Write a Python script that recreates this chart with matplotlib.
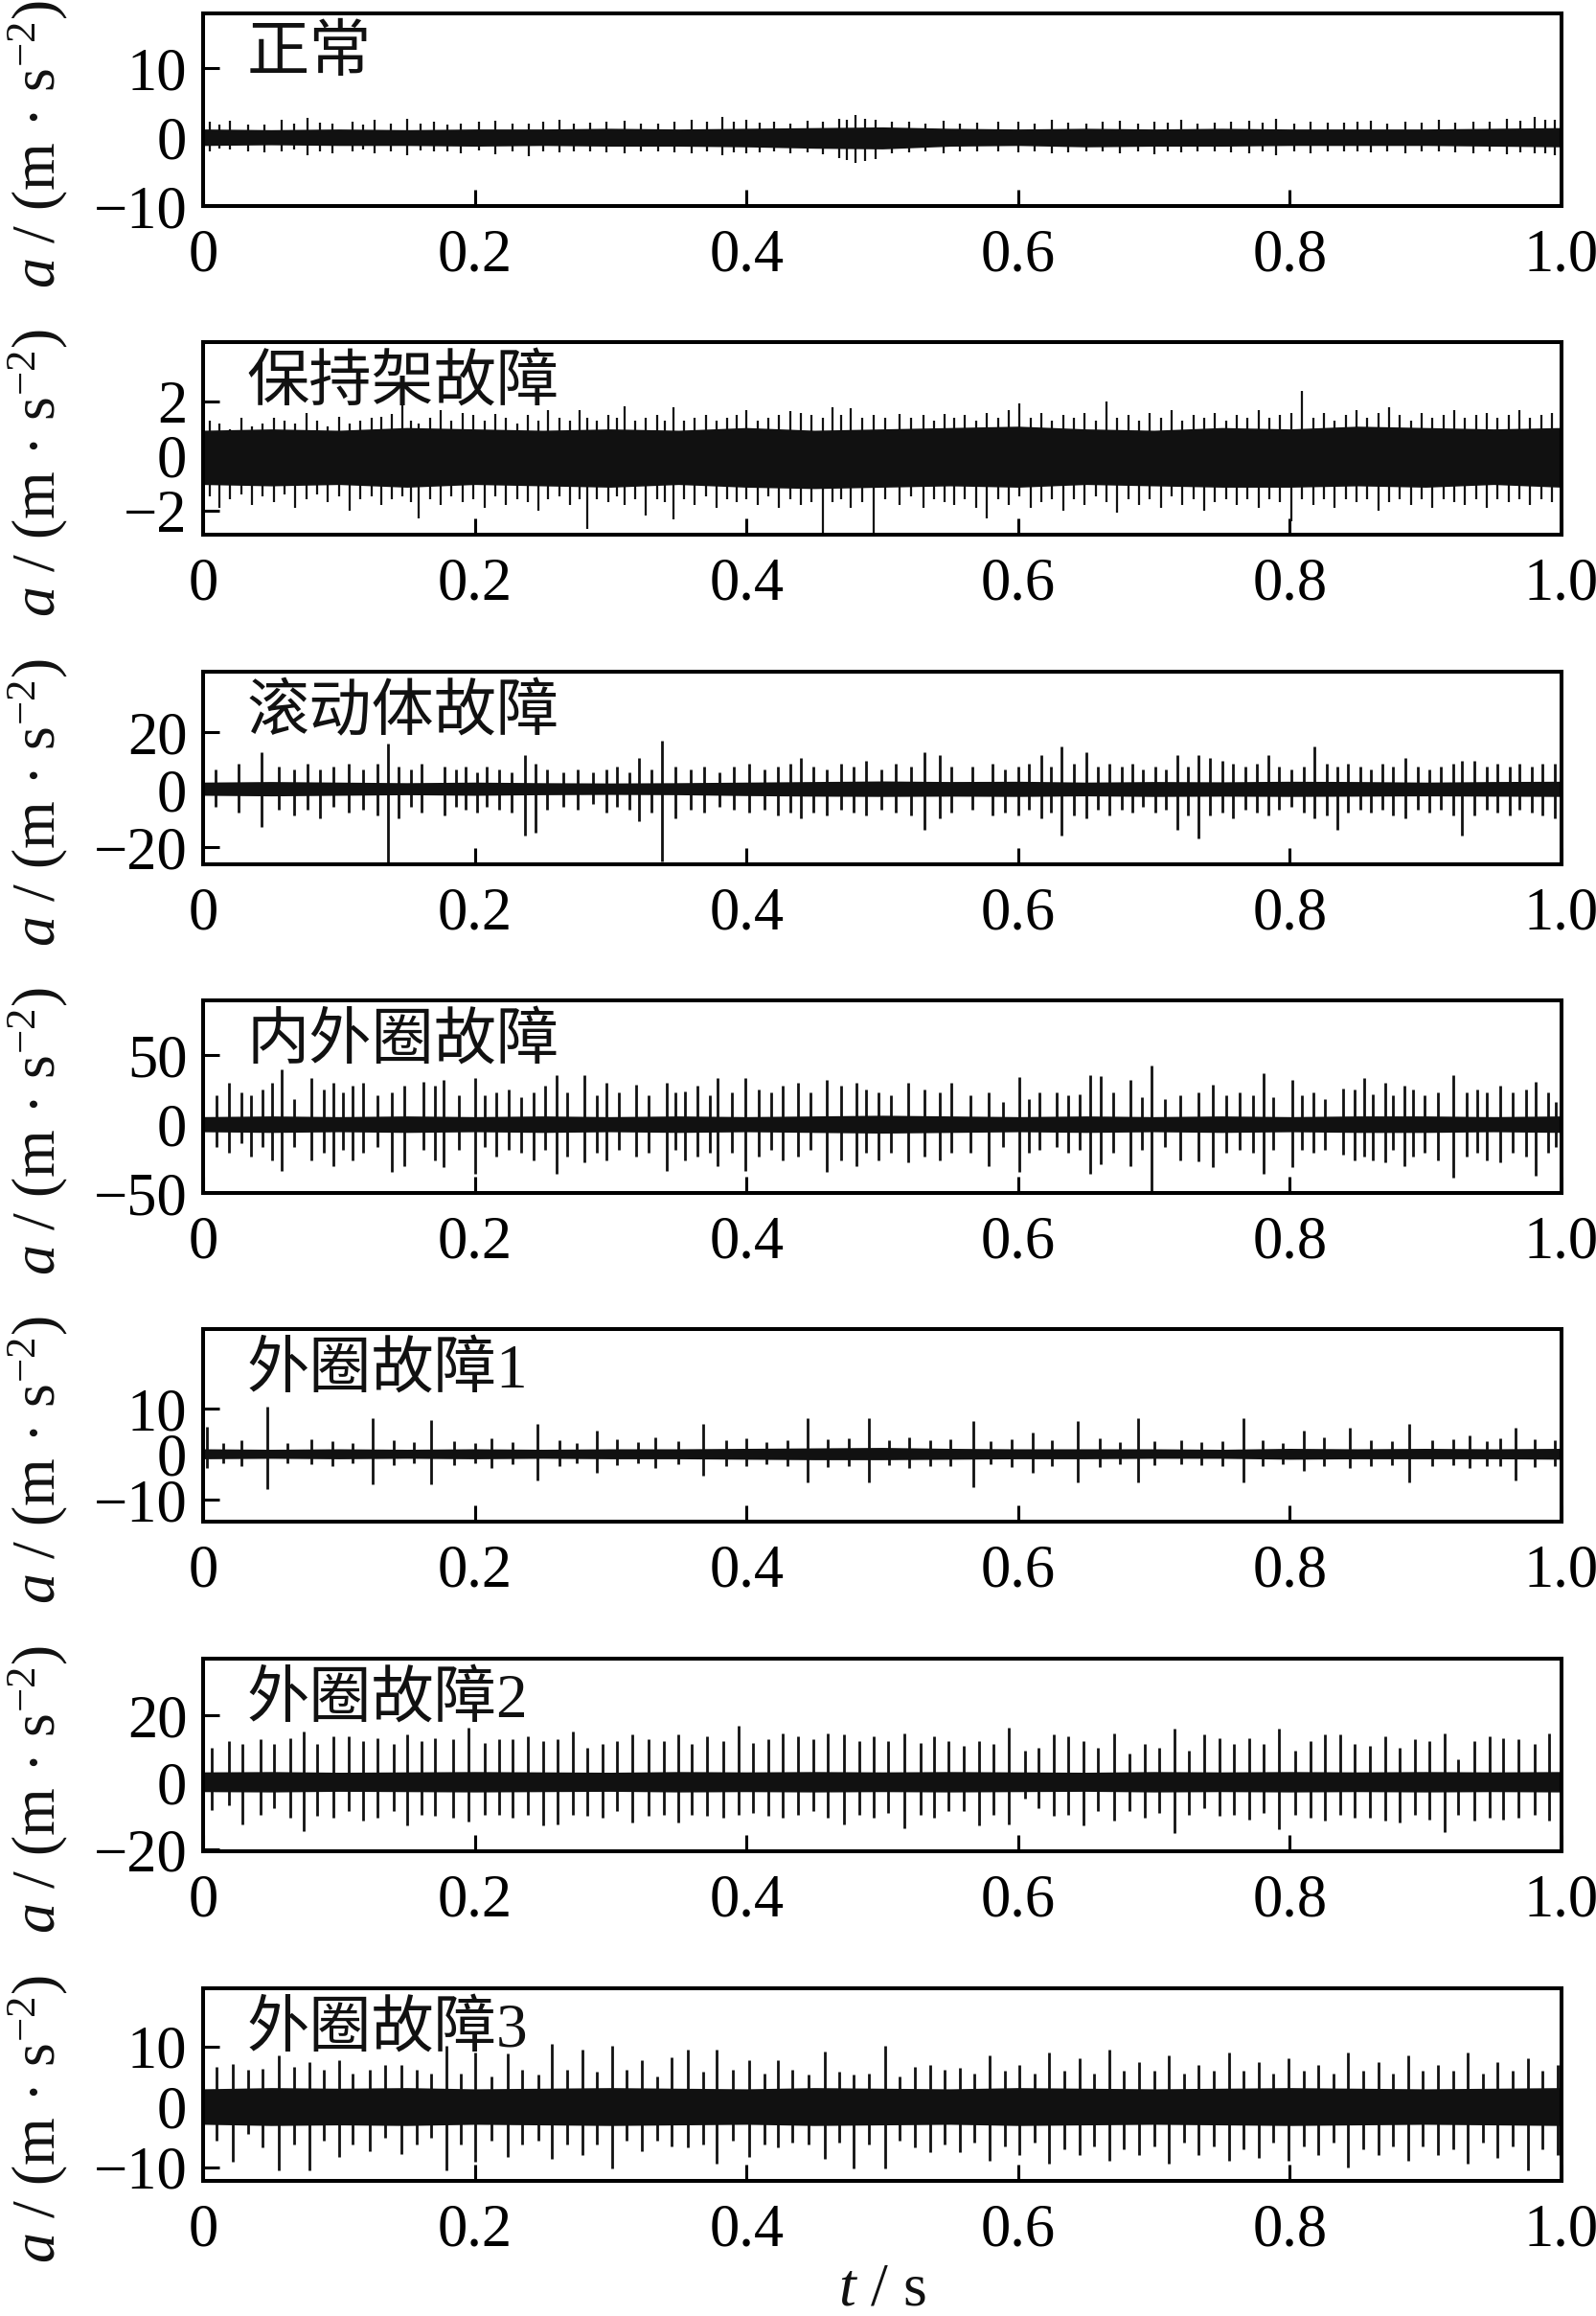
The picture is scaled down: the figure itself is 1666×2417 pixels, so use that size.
import numpy as np
import matplotlib
matplotlib.use('Agg')
import matplotlib.pyplot as plt

plt.rcParams['font.family'] = ['Liberation Serif', 'Noto Sans CJK SC']
plt.rcParams['mathtext.fontset'] = 'custom'
plt.rcParams['mathtext.rm'] = 'Liberation Serif'
plt.rcParams['mathtext.it'] = 'Liberation Serif:italic'
plt.rcParams['axes.unicode_minus'] = True

# ---------------- data ----------------
names = ['正常', '保持架故障', '滚动体故障', '内外圈故障', '外圈故障1', '外圈故障2', '外圈故障3']
ylims = [(-10, 18), (-2.9, 4.2), (-26, 41), (-50, 90), (-14.8, 27.5), (-20.5, 37), (-12.3, 19.7)]
yticks = [[-10, 0, 10], [-2, 0, 2], [-20, 0, 20], [-50, 0, 50], [-10, 0, 10], [-20, 0, 20], [-10, 0, 10]]
xticks = [0, 0.2, 0.4, 0.6, 0.8, 1.0]
xticklabels = ['0', '0.2', '0.4', '0.6', '0.8', '1.0']

# dense noise band (core envelope) sampled every 0.05 s
band_t = np.linspace(0, 1, 21)
band_hi = [
    [1.2, 1.1, 1.2, 1.1, 1.2, 1.2, 1.3, 1.2, 1.3, 1.4, 1.5, 1.3, 1.2, 1.3, 1.2, 1.3, 1.2, 1.2, 1.2, 1.3, 1.4],
    [0.95, 1.0, 0.95, 1.05, 1.0, 0.95, 1.0, 0.95, 1.05, 0.95, 1.0, 1.05, 1.1, 1.0, 0.95, 1.05, 1.0, 1.1, 1.05, 1.0, 1.05],
    [2.6, 2.8, 2.6, 2.4, 2.6, 2.4, 2.3, 2.4, 2.6, 2.8, 3.0, 2.8, 2.9, 2.6, 2.8, 2.7, 2.9, 2.8, 2.6, 2.8, 2.9],
    [5.5, 6.0, 5.5, 6.0, 5.5, 6.0, 5.5, 6.0, 5.5, 6.0, 6.5, 6.0, 5.5, 6.0, 5.5, 6.0, 5.5, 6.0, 6.0, 5.5, 6.0],
    [1.2, 1.1, 1.2, 1.1, 1.2, 1.1, 1.2, 1.2, 1.3, 1.4, 1.5, 1.3, 1.2, 1.2, 1.2, 1.1, 1.3, 1.2, 1.3, 1.2, 1.3],
    [3.2, 3.3, 3.1, 3.2, 3.3, 3.2, 3.1, 3.3, 3.2, 3.3, 3.2, 3.3, 3.2, 3.1, 3.3, 3.2, 3.3, 3.2, 3.3, 3.2, 3.3],
    [3.0, 3.2, 3.1, 3.2, 3.0, 3.1, 3.2, 3.1, 3.0, 3.2, 3.1, 3.0, 3.2, 3.1, 3.0, 3.1, 3.2, 3.1, 3.0, 3.1, 3.2],
]
band_lo = [
    [-1.2, -1.1, -1.2, -1.2, -1.3, -1.2, -1.3, -1.3, -1.4, -1.6, -1.7, -1.3, -1.2, -1.4, -1.3, -1.3, -1.2, -1.2, -1.2, -1.3, -1.4],
    [-1.05, -1.1, -1.05, -1.15, -1.05, -1.1, -1.15, -1.05, -1.15, -1.2, -1.15, -1.1, -1.15, -1.05, -1.1, -1.15, -1.15, -1.1, -1.15, -1.05, -1.15],
    [-2.0, -2.2, -2.0, -1.8, -2.0, -1.8, -1.7, -1.8, -2.1, -2.3, -2.4, -2.3, -2.4, -2.2, -2.4, -2.3, -2.4, -2.3, -2.2, -2.3, -2.4],
    [-5.5, -6.0, -5.5, -6.0, -5.5, -6.0, -5.5, -6.0, -5.5, -6.0, -6.5, -6.0, -5.5, -6.0, -5.5, -6.0, -5.5, -6.0, -6.0, -5.5, -6.0],
    [-1.0, -0.9, -1.0, -0.9, -1.0, -0.9, -1.0, -1.0, -1.1, -1.2, -1.2, -1.1, -1.0, -1.0, -0.9, -0.9, -1.1, -1.0, -1.0, -1.0, -1.1],
    [-2.7, -2.8, -2.6, -2.7, -2.8, -2.7, -2.6, -2.8, -2.7, -2.8, -2.7, -2.8, -2.7, -2.6, -2.8, -2.7, -2.8, -2.7, -2.8, -2.7, -2.8],
    [-2.9, -3.1, -3.0, -3.1, -2.9, -3.0, -3.1, -3.0, -2.9, -3.1, -3.0, -2.9, -3.1, -3.0, -2.9, -3.0, -3.1, -3.0, -2.9, -3.0, -3.1],
]

# impulses / peaks: (time s, max, min)
normal_peaks = [
    (0.005, 2.2, -2.0), (0.012, 1.8, -1.7), (0.020, 2.4, -1.8), (0.033, 1.9, -2.0), (0.045, 1.9, -2.2),
    (0.058, 2.5, -2.0), (0.067, 2.0, -1.8), (0.077, 2.8, -2.6), (0.086, 2.1, -2.0), (0.095, 2.0, -2.3),
    (0.110, 2.3, -2.0), (0.118, 1.9, -1.8), (0.126, 2.6, -2.4), (0.138, 2.0, -2.0), (0.150, 2.7, -2.6),
    (0.160, 2.0, -1.9), (0.170, 2.2, -2.0), (0.180, 1.9, -2.1), (0.190, 2.0, -2.3), (0.203, 2.2, -1.9),
    (0.215, 2.4, -2.5), (0.228, 2.0, -2.0), (0.240, 2.0, -2.8), (0.250, 2.2, -2.0), (0.262, 2.6, -2.2),
    (0.273, 2.0, -2.1), (0.285, 2.1, -2.0), (0.297, 2.2, -2.2), (0.310, 2.4, -2.3), (0.322, 2.0, -2.0),
    (0.335, 2.0, -2.1), (0.347, 2.3, -2.2), (0.360, 2.5, -2.4), (0.371, 2.2, -2.1), (0.382, 2.9, -2.6),
    (0.391, 2.3, -2.2), (0.400, 2.6, -2.4), (0.410, 2.1, -2.2), (0.420, 2.2, -2.1), (0.432, 2.0, -2.3),
    (0.445, 2.4, -2.2), (0.456, 2.2, -2.5), (0.468, 2.7, -3.0), (0.474, 2.6, -3.3), (0.480, 3.2, -3.8),
    (0.487, 2.7, -3.5), (0.495, 2.5, -3.2), (0.507, 2.2, -2.4), (0.520, 2.2, -2.2), (0.532, 2.0, -2.0),
    (0.545, 2.4, -2.3), (0.557, 2.0, -2.1), (0.570, 2.1, -2.0), (0.585, 2.2, -2.1), (0.600, 2.3, -2.2),
    (0.612, 2.0, -2.0), (0.625, 2.6, -2.4), (0.637, 2.1, -2.2), (0.650, 2.0, -2.1), (0.662, 2.2, -2.0),
    (0.675, 2.4, -2.3), (0.688, 2.0, -2.1), (0.700, 2.2, -2.5), (0.710, 2.1, -2.0), (0.720, 2.6, -2.2),
    (0.732, 2.0, -2.1), (0.745, 2.1, -2.0), (0.757, 2.2, -2.2), (0.770, 2.4, -2.3), (0.780, 2.1, -2.0),
    (0.790, 2.7, -2.6), (0.803, 2.0, -2.1), (0.815, 2.3, -2.4), (0.828, 2.1, -2.0), (0.840, 2.1, -2.0),
    (0.850, 2.2, -2.1), (0.860, 2.4, -2.2), (0.872, 2.0, -2.0), (0.885, 2.2, -2.3), (0.897, 2.1, -2.0),
    (0.910, 2.5, -2.1), (0.922, 2.1, -2.2), (0.935, 2.3, -2.4), (0.947, 2.2, -2.0), (0.960, 2.7, -2.5),
    (0.970, 2.4, -2.2), (0.980, 3.0, -2.4), (0.988, 2.5, -2.3), (0.995, 2.6, -2.6),
]
cage_peaks = [
    (0.005, 1.3, -1.5), (0.012, 1.2, -1.9), (0.020, 1.0, -1.6), (0.028, 1.4, -1.4), (0.036, 1.1, -1.8),
    (0.044, 1.2, -1.5), (0.052, 1.4, -1.7), (0.060, 1.3, -1.4), (0.068, 1.2, -1.9), (0.076, 1.6, -1.6),
    (0.084, 1.3, -1.4), (0.092, 1.1, -1.7), (0.100, 1.45, -1.5), (0.108, 1.2, -2.0), (0.116, 1.3, -1.6),
    (0.124, 1.4, -1.5), (0.131, 1.45, -1.8), (0.139, 1.55, -1.6), (0.147, 2.1, -1.5), (0.153, 1.3, -1.7),
    (0.159, 1.2, -2.3), (0.167, 1.4, -1.6), (0.175, 1.7, -1.8), (0.183, 1.3, -1.5), (0.191, 1.6, -1.7),
    (0.199, 1.5, -1.6), (0.207, 1.3, -1.9), (0.215, 1.55, -1.5), (0.223, 1.4, -1.8), (0.231, 1.2, -1.6),
    (0.239, 1.5, -1.7), (0.247, 1.3, -2.0), (0.254, 1.7, -1.6), (0.262, 1.4, -1.5), (0.270, 1.3, -1.8),
    (0.277, 1.7, -1.6), (0.283, 1.4, -2.7), (0.290, 1.3, -1.6), (0.298, 1.5, -1.7), (0.305, 1.4, -1.5),
    (0.310, 1.85, -1.8), (0.318, 1.3, -1.6), (0.326, 1.4, -2.2), (0.334, 1.5, -1.6), (0.340, 1.3, -1.7),
    (0.346, 1.8, -2.35), (0.354, 1.3, -1.6), (0.362, 1.4, -1.8), (0.370, 1.5, -1.5), (0.378, 1.3, -1.9),
    (0.386, 1.4, -1.6), (0.393, 1.5, -1.7), (0.400, 1.7, -1.6), (0.408, 1.3, -1.8), (0.416, 1.4, -1.5),
    (0.424, 1.5, -1.9), (0.432, 1.65, -1.6), (0.440, 1.6, -1.8), (0.448, 1.5, -1.7), (0.456, 1.4, -2.85),
    (0.463, 1.8, -1.7), (0.470, 1.5, -1.6), (0.477, 1.75, -1.9), (0.485, 1.4, -1.7), (0.494, 1.5, -2.85),
    (0.502, 1.4, -1.6), (0.513, 1.55, -1.8), (0.521, 1.4, -1.5), (0.530, 1.5, -1.9), (0.538, 1.3, -1.6),
    (0.546, 1.55, -1.7), (0.553, 1.4, -1.8), (0.561, 1.5, -1.6), (0.569, 1.3, -1.9), (0.577, 1.6, -2.3),
    (0.585, 1.4, -1.6), (0.593, 1.7, -1.8), (0.601, 1.95, -1.5), (0.609, 1.4, -1.9), (0.617, 1.6, -1.7),
    (0.625, 1.3, -1.6), (0.633, 1.5, -2.0), (0.641, 1.4, -1.6), (0.649, 1.6, -1.8), (0.657, 1.3, -1.5),
    (0.665, 2.0, -1.7), (0.673, 1.4, -2.1), (0.681, 1.5, -1.6), (0.689, 1.3, -1.8), (0.697, 1.6, -1.6),
    (0.705, 1.4, -1.9), (0.713, 1.7, -1.5), (0.721, 1.3, -1.8), (0.729, 1.5, -1.6), (0.737, 1.4, -2.0),
    (0.745, 1.6, -1.7), (0.753, 1.3, -1.6), (0.761, 1.5, -1.8), (0.769, 1.4, -1.6), (0.777, 1.7, -1.9),
    (0.785, 1.4, -1.6), (0.793, 1.5, -1.7), (0.801, 1.6, -2.4), (0.809, 2.4, -1.6), (0.817, 1.4, -1.8),
    (0.825, 1.6, -1.6), (0.833, 1.3, -1.9), (0.841, 1.5, -1.6), (0.849, 1.7, -1.7), (0.857, 1.4, -1.6),
    (0.865, 1.6, -2.0), (0.873, 1.8, -1.7), (0.881, 1.5, -1.6), (0.889, 1.3, -1.8), (0.897, 1.6, -1.6),
    (0.905, 1.4, -1.9), (0.913, 1.5, -1.6), (0.921, 1.7, -1.7), (0.929, 1.4, -1.8), (0.937, 1.5, -1.6),
    (0.945, 1.6, -1.9), (0.953, 1.4, -1.6), (0.961, 1.5, -1.7), (0.969, 1.7, -1.6), (0.977, 1.4, -1.8),
    (0.985, 1.5, -1.6), (0.993, 1.6, -1.7),
]
ball_peaks = [
    (0.009, 7, -6), (0.026, 9, -8), (0.043, 13, -13), (0.056, 8, -7), (0.067, 7, -9), (0.077, 9, -7),
    (0.086, 7, -10), (0.096, 8, -6), (0.107, 9, -8), (0.118, 7, -7), (0.128, 9, -9), (0.136, 16, -26),
    (0.144, 8, -10), (0.153, 7, -6), (0.161, 9, -8), (0.178, 8, -9), (0.186, 7, -6), (0.193, 8, -7),
    (0.202, 6, -8), (0.209, 8, -6), (0.218, 7, -7), (0.227, 6, -8), (0.237, 12, -16), (0.245, 9, -15),
    (0.253, 7, -7), (0.265, 6, -6), (0.276, 7, -7), (0.287, 6, -5), (0.297, 7, -8), (0.305, 8, -6),
    (0.314, 6, -7), (0.321, 11, -11), (0.330, 7, -8), (0.338, 17, -25), (0.348, 8, -10), (0.359, 7, -7),
    (0.369, 8, -8), (0.380, 6, -6), (0.391, 8, -7), (0.402, 9, -8), (0.413, 7, -7), (0.423, 8, -9),
    (0.432, 9, -8), (0.440, 11, -10), (0.449, 8, -8), (0.459, 7, -9), (0.470, 9, -7), (0.479, 8, -8),
    (0.488, 10, -9), (0.499, 7, -7), (0.510, 9, -8), (0.521, 8, -9), (0.531, 13, -14), (0.542, 12, -10),
    (0.551, 8, -8), (0.566, 8, -7), (0.581, 9, -9), (0.590, 7, -8), (0.600, 8, -9), (0.608, 9, -7),
    (0.617, 12, -10), (0.624, 8, -8), (0.632, 15, -16), (0.641, 9, -9), (0.650, 13, -10), (0.659, 8, -7),
    (0.667, 9, -9), (0.676, 8, -7), (0.684, 9, -8), (0.692, 7, -6), (0.701, 8, -8), (0.709, 7, -7),
    (0.717, 12, -14), (0.725, 8, -9), (0.733, 12, -17), (0.741, 11, -9), (0.750, 10, -8), (0.758, 9, -10),
    (0.767, 8, -7), (0.776, 9, -8), (0.784, 12, -9), (0.792, 8, -7), (0.801, 7, -6), (0.810, 8, -8),
    (0.818, 15, -10), (0.827, 9, -9), (0.835, 8, -14), (0.843, 9, -8), (0.852, 8, -7), (0.860, 7, -8),
    (0.868, 9, -7), (0.876, 8, -9), (0.885, 11, -10), (0.894, 8, -7), (0.903, 7, -8), (0.911, 8, -7),
    (0.920, 9, -9), (0.927, 10, -16), (0.936, 10, -9), (0.945, 8, -7), (0.953, 9, -8), (0.962, 8, -9),
    (0.969, 9, -7), (0.978, 8, -8), (0.986, 9, -9), (0.995, 9, -10),
]
inout_peaks = [
    (0.010, 21, -16.5), (0.019, 30, -21), (0.028, 23, -14), (0.035, 21, -23.5), (0.044, 25, -16.5),
    (0.051, 30, -26), (0.058, 40, -34), (0.067, 18.5, -16.5), (0.080, 33.5, -26), (0.089, 25, -21),
    (0.096, 30, -30.5), (0.103, 23, -19), (0.110, 28, -26), (0.118, 30, -21), (0.128, 21, -16.5),
    (0.139, 23, -35), (0.148, 28, -30.5), (0.162, 31, -19), (0.171, 28, -26), (0.177, 32.5, -31.5),
    (0.188, 21, -19), (0.200, 33.5, -36), (0.207, 21, -16.5), (0.216, 23, -23.5), (0.225, 25, -19),
    (0.234, 19.5, -21), (0.243, 23, -26), (0.252, 28, -19), (0.260, 35.5, -36), (0.268, 23, -23.5),
    (0.281, 36, -28), (0.290, 21, -21), (0.297, 30, -26), (0.306, 23, -19), (0.319, 29, -23.5),
    (0.328, 21, -21), (0.341, 30, -34), (0.348, 23, -19), (0.355, 24, -26), (0.364, 28, -23.5),
    (0.373, 21, -21), (0.379, 33.5, -30.5), (0.389, 23, -21), (0.399, 33.5, -34), (0.409, 25, -23.5),
    (0.418, 23, -19), (0.427, 28, -26), (0.438, 30, -23.5), (0.447, 23, -19), (0.459, 32.5, -35),
    (0.470, 28, -26), (0.481, 30, -30.5), (0.488, 25, -21), (0.497, 23, -26), (0.506, 21, -21),
    (0.519, 30, -28), (0.531, 25, -23.5), (0.542, 23, -26), (0.551, 30, -21),
    (0.565, 21, -21), (0.578, 23, -30.5), (0.589, 16, -16.5), (0.601, 34, -35), (0.608, 18.5, -21),
    (0.616, 23, -19), (0.628, 23, -16.5), (0.637, 21, -21), (0.645, 22, -19), (0.653, 35.5, -36),
    (0.661, 35, -29), (0.670, 23, -21), (0.683, 32.5, -30.5), (0.691, 19.5, -19), (0.698, 42.5, -49),
    (0.708, 18.5, -16.5), (0.719, 21, -26), (0.733, 23, -27), (0.743, 29, -31.5), (0.753, 21, -21),
    (0.763, 23, -19), (0.773, 21, -21), (0.781, 37, -36), (0.788, 19.5, -19), (0.802, 32, -31.5),
    (0.809, 21, -19), (0.817, 23, -21), (0.826, 18.5, -19), (0.839, 26, -22), (0.848, 25, -26),
    (0.855, 33.5, -23.5), (0.861, 22, -26), (0.870, 30, -28), (0.876, 21, -19), (0.884, 28, -30.5),
    (0.891, 25, -23.5), (0.899, 21, -21), (0.909, 23, -26), (0.920, 36, -39), (0.930, 23, -23.5),
    (0.938, 25, -21), (0.945, 23, -26), (0.955, 28, -28), (0.964, 23, -21), (0.974, 25, -23.5),
    (0.981, 31, -37.5), (0.990, 23, -21), (0.996, 16, -16.5),
]
outer1_peaks = [
    (0.003, 6.0, -3.0), (0.015, 2.5, -2.0), (0.028, 3.0, -2.5), (0.047, 10.4, -7.7), (0.062, 2.5, -2.0),
    (0.080, 3.3, -2.2), (0.095, 2.8, -2.5), (0.110, 2.5, -2.0), (0.125, 7.9, -6.5), (0.140, 3.0, -2.3),
    (0.155, 2.6, -2.0), (0.168, 7.6, -6.5), (0.185, 2.8, -2.4), (0.200, 2.5, -2.0), (0.212, 3.5, -3.0),
    (0.228, 2.7, -2.2), (0.246, 6.6, -5.8), (0.262, 3.0, -2.5), (0.275, 2.5, -2.0), (0.290, 5.2, -4.0),
    (0.305, 3.2, -2.4), (0.320, 2.6, -2.0), (0.333, 3.8, -3.0), (0.350, 2.8, -2.2), (0.368, 6.6, -4.6),
    (0.385, 3.0, -2.5), (0.400, 3.5, -2.5), (0.415, 2.7, -2.2), (0.430, 3.0, -2.6), (0.445, 7.9, -6.1),
    (0.460, 3.2, -2.8), (0.475, 3.5, -2.5), (0.490, 7.9, -6.2), (0.505, 3.0, -2.4), (0.520, 3.8, -3.0),
    (0.535, 3.0, -2.6), (0.550, 3.2, -2.5), (0.567, 7.2, -7.2), (0.580, 2.8, -2.2), (0.595, 3.2, -2.8),
    (0.611, 4.7, -4.0), (0.625, 3.0, -2.5), (0.644, 7.4, -6.1), (0.660, 3.5, -2.8), (0.675, 2.6, -2.2),
    (0.688, 7.9, -6.1), (0.700, 2.8, -2.4), (0.720, 3.0, -2.2), (0.735, 2.7, -2.4), (0.750, 2.8, -2.6),
    (0.766, 7.9, -6.1), (0.780, 3.0, -2.5), (0.795, 2.5, -2.2), (0.810, 5.2, -3.7), (0.825, 3.8, -2.5),
    (0.844, 5.8, -3.0), (0.860, 3.0, -2.6), (0.875, 2.8, -2.4), (0.888, 6.6, -6.2), (0.905, 3.0, -2.6),
    (0.920, 3.2, -2.4), (0.932, 4.2, -3.0), (0.945, 2.8, -2.6), (0.955, 3.5, -2.5), (0.966, 5.8, -5.8),
    (0.980, 3.2, -2.8), (0.995, 3.0, -2.5),
]
outer2_peaks = [
    (0.006, 10.5, -8.1), (0.019, 12.4, -6.7), (0.029, 11.4, -12.4), (0.042, 12.9, -9.5), (0.052, 11.4, -7.6),
    (0.064, 13.3, -10.5), (0.074, 15.4, -14.5), (0.084, 11.4, -10.0), (0.096, 13.8, -10.5), (0.107, 13.8, -8.6),
    (0.118, 12.4, -11.4), (0.128, 13.3, -10.5), (0.140, 11.4, -8.6), (0.150, 14.3, -12.9), (0.161, 12.4, -9.5),
    (0.171, 13.3, -10.0), (0.184, 12.9, -10.5), (0.195, 16.4, -11.7), (0.207, 11.9, -9.5), (0.218, 12.9, -9.5),
    (0.228, 12.9, -10.5), (0.239, 13.8, -9.5), (0.250, 12.4, -12.9), (0.261, 12.9, -12.4), (0.272, 15.2, -9.5),
    (0.283, 10.5, -10.0), (0.294, 11.4, -10.5), (0.305, 12.4, -8.6), (0.316, 14.3, -11.9), (0.328, 12.9, -10.0),
    (0.339, 12.4, -9.5), (0.350, 14.3, -11.9), (0.360, 11.4, -9.5), (0.371, 13.8, -10.0), (0.383, 12.4, -10.5),
    (0.394, 17.1, -9.5), (0.405, 11.9, -9.0), (0.416, 12.9, -10.0), (0.427, 14.8, -10.5), (0.438, 13.8, -9.5),
    (0.449, 12.9, -8.6), (0.460, 14.8, -10.5), (0.472, 14.3, -12.4), (0.483, 12.4, -9.5), (0.494, 13.8, -10.5),
    (0.504, 12.4, -9.0), (0.516, 14.8, -13.5), (0.528, 11.9, -9.5), (0.538, 13.8, -10.5), (0.549, 12.4, -8.6),
    (0.560, 11.0, -8.6), (0.571, 12.4, -12.9), (0.582, 11.4, -9.5), (0.593, 16.4, -12.4), (0.605, 9.5, -4.8),
    (0.615, 10.5, -7.6), (0.626, 14.3, -10.0), (0.637, 13.8, -9.5), (0.648, 12.4, -12.9), (0.659, 10.5, -8.6),
    (0.671, 14.8, -11.4), (0.682, 8.6, -8.6), (0.693, 11.4, -10.5), (0.704, 10.5, -9.0), (0.715, 16.2, -15.2),
    (0.726, 9.5, -9.5), (0.737, 14.3, -7.6), (0.748, 13.3, -10.0), (0.759, 11.4, -9.5), (0.770, 13.3, -11.0),
    (0.781, 11.4, -9.0), (0.792, 16.2, -13.8), (0.804, 9.5, -9.5), (0.815, 12.4, -10.5), (0.826, 14.3, -11.4),
    (0.837, 14.3, -9.5), (0.848, 11.4, -10.5), (0.859, 11.0, -10.5), (0.870, 13.8, -11.4), (0.881, 10.5, -11.9),
    (0.892, 12.9, -9.5), (0.903, 12.4, -11.0), (0.914, 14.8, -14.8), (0.924, 7.1, -9.5), (0.936, 12.4, -11.4),
    (0.947, 13.8, -10.5), (0.957, 13.3, -11.0), (0.968, 12.9, -10.5), (0.980, 11.4, -9.5), (0.991, 14.8, -11.4),
    (0.999, 12.0, -9.0),
]
outer3_peaks = [
    (0.010, 6.6, -5.6), (0.022, 7.1, -9.1), (0.033, 6.1, -4.5), (0.044, 6.3, -6.7), (0.056, 8.5, -10.5),
    (0.067, 6.6, -6.2), (0.078, 7.4, -10.5), (0.089, 6.1, -5.6), (0.100, 7.7, -8.3), (0.110, 5.6, -6.2),
    (0.123, 6.1, -7.3), (0.134, 6.9, -5.1), (0.146, 6.9, -7.8), (0.157, 6.1, -6.2), (0.168, 5.6, -5.1),
    (0.179, 10.1, -10.6), (0.190, 5.6, -6.2), (0.200, 9.0, -9.1), (0.212, 5.0, -5.6), (0.224, 8.8, -8.3),
    (0.235, 6.1, -6.2), (0.247, 5.3, -5.6), (0.257, 10.4, -8.7), (0.268, 6.1, -6.2), (0.279, 9.5, -8.0),
    (0.290, 5.8, -6.2), (0.301, 10.2, -10.2), (0.312, 6.1, -5.6), (0.323, 7.7, -7.3), (0.334, 5.0, -5.6),
    (0.345, 8.2, -6.5), (0.357, 9.5, -6.7), (0.368, 5.8, -6.2), (0.378, 9.5, -9.4), (0.390, 6.1, -5.6),
    (0.402, 7.7, -8.3), (0.413, 5.6, -6.2), (0.423, 7.7, -6.7), (0.434, 6.1, -5.9), (0.446, 5.3, -6.2),
    (0.458, 9.2, -8.6), (0.468, 5.8, -5.9), (0.479, 5.3, -10.2), (0.490, 5.6, -6.2), (0.502, 10.2, -10.2),
    (0.513, 5.0, -5.6), (0.524, 6.6, -6.7), (0.535, 6.9, -7.6), (0.546, 6.1, -6.2),
    (0.557, 6.5, -7.5), (0.568, 5.5, -6.0), (0.579, 8.5, -9.0), (0.590, 6.0, -6.5), (0.601, 7.0, -8.0),
    (0.612, 5.5, -6.0), (0.623, 9.0, -9.5), (0.634, 6.0, -7.0), (0.645, 8.0, -8.0), (0.656, 5.5, -6.5),
    (0.667, 9.5, -9.0), (0.678, 6.0, -7.0), (0.689, 7.5, -8.0), (0.700, 6.0, -6.5), (0.711, 8.5, -9.5),
    (0.722, 5.5, -6.0), (0.733, 7.0, -8.0), (0.744, 6.0, -6.5), (0.755, 9.0, -9.0), (0.766, 6.0, -7.0),
    (0.777, 7.5, -8.5), (0.788, 5.5, -6.0), (0.799, 8.0, -9.0), (0.810, 6.0, -6.5), (0.821, 7.0, -8.0),
    (0.832, 5.5, -6.0), (0.843, 9.0, -10.0), (0.854, 6.0, -7.0), (0.865, 7.5, -8.0), (0.876, 5.5, -6.5),
    (0.887, 8.5, -9.0), (0.898, 6.0, -6.5), (0.909, 7.0, -8.0), (0.920, 6.0, -7.0), (0.931, 9.0, -9.5),
    (0.942, 5.5, -6.0), (0.953, 7.5, -8.5), (0.964, 6.0, -6.5), (0.975, 8.0, -10.5), (0.986, 6.0, -7.0),
    (0.997, 7.0, -8.0),
]
peaks = [normal_peaks, cage_peaks, ball_peaks, inout_peaks, outer1_peaks, outer2_peaks, outer3_peaks]

# ---------------- layout ----------------
W, H = 1666, 2417
fig = plt.figure(figsize=(W / 100, H / 100), dpi=100)
ax_left, ax_right = 212, 1630
ax_tops = [14, 357, 701, 1044, 1387, 1731, 2075]
ax_h = 201
ink = '#111111'
spike_lw = [1.6, 1.6, 2.0, 2.0, 2.0, 2.0, 2.0]

for i in range(7):
    top = ax_tops[i]
    ax = fig.add_axes([ax_left / W, 1 - (top + ax_h) / H, (ax_right - ax_left) / W, ax_h / H])
    ax.fill_between(band_t, band_lo[i], band_hi[i], color=ink, lw=0, zorder=2)
    pk = peaks[i]
    pt = [p[0] for p in pk]
    ph = [p[1] for p in pk]
    pl = [p[2] for p in pk]
    ax.vlines(pt, pl, ph, color=ink, lw=spike_lw[i], zorder=2)
    ax.set_xlim(0, 1)
    ax.set_ylim(*ylims[i])
    ax.set_xticks(xticks)
    ax.set_xticklabels(xticklabels)
    ax.set_yticks(yticks[i])
    ax.tick_params(direction='in', length=12, width=2.2, labelsize=45,
                   top=False, right=False)
    ax.tick_params(axis='x', pad=17)
    ax.tick_params(axis='y', pad=12)
    for s in ax.spines.values():
        s.set_linewidth(2.9)
        s.set_zorder(5)
    ax.text(0.032, 0.78, names[i], transform=ax.transAxes, fontsize=47,
            ha='left', va='center', color=ink, zorder=6,
            family=['Liberation Serif', 'Noto Sans CJK SC'])
    # y label
    yc = top + ax_h / 2 + 36
    fig.text(40 / W, 1 - yc / H, r'$a$ / (m · s$^{-2}$)', rotation=90,
             ha='center', va='center', fontsize=46, color=ink)

fig.text((ax_left + ax_right) / 2 / W, 1 - 2390 / H, r'$t$ / s', ha='center', va='center',
         fontsize=46, color=ink)

fig.savefig('out.png', dpi=100)
